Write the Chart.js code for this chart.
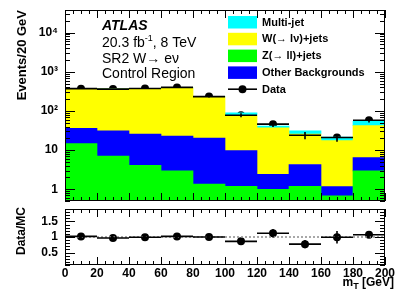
<!DOCTYPE html>
<html lang="en">
<head>
<meta charset="UTF-8">
<title>ATLAS SR2 W→eν Control Region</title>
<script src="https://cdn.jsdelivr.net/npm/chart.js"></script>
<style>
    * { margin: 0; padding: 0; box-sizing: border-box; }
    body { width: 407px; height: 292px; background: #fff; position: relative; overflow: hidden; }
    #main { position: absolute; left: 0; top: 0; }
    #ratio { position: absolute; left: 0; top: 205px; }
</style>
</head>
<body>
<canvas id="main" width="407" height="205"></canvas>
<canvas id="ratio" width="407" height="87"></canvas>

<script>
    // bins in m_T [GeV]
    const binLow = [0, 20, 40, 60, 80, 100, 120, 140, 160, 180];
    const binCenter = [10, 30, 50, 70, 90, 110, 130, 150, 170, 190];

    // stacked MC components (events / 20 GeV), bottom to top
    const zJets = [14.6, 7.0, 4.1, 2.95, 1.36, 1.19, 1.0, 1.19, 0.68, 2.95];
    const otherBkg = [21.4, 24, 21.6, 20, 18.9, 8.5, 1.4, 3.1, 0.49, 3.45];
    const wJets = [326, 338, 350, 366, 211, 68, 34.6, 21.4, 16.2, 35.6];
    const multiJet = [3, 4, 4, 3, 2, 12, 4, 5.3, 4.1, 12];

    // data
    const dataVals = [372, 362, 376, 400, 233, 78, 46, 24, 21, 58];
    const dataErr = [19, 19, 19, 20, 15, 9, 7, 5, 4.6, 7.6];

    // ratio panel
    const ratioVals = [1.02, 0.97, 0.99, 1.02, 1.00, 0.86, 1.12, 0.77, 0.99, 1.07];
    const ratioErr = [0.05, 0.05, 0.05, 0.05, 0.06, 0.08, 0.14, 0.13, 0.2, 0.1];

    // ticks
    const xTicks = [0, 20, 40, 60, 80, 100, 120, 140, 160, 180, 200];
    const mainYTicks = [1, 10, 100, 1000, 10000];
    const mainYLabels = ['1', '10', '10²', '10³', '10⁴'];
    const ratioYTicks = [0.5, 1, 1.5];
    const ratioYLabels = ['0.5', '1', '1.5'];

    const FONT = "'Liberation Sans', Arial, Helvetica, sans-serif";
    const binWidth = 20;

    // build floating bars for the stack
    const layers = [
        { label: 'Z(→ ll)+jets', vals: zJets, color: '#00ff00' },
        { label: 'Other Backgrounds', vals: otherBkg, color: '#0000ff' },
        { label: 'W(→ lν)+jets', vals: wJets, color: '#ffff00' },
        { label: 'Multi-jet', vals: multiJet, color: '#00ffff' }
    ];
    let running = binCenter.map(() => 0);
    const barSets = layers.map(l => {
        const d = binCenter.map((c, i) => {
            const lo = running[i] === 0 ? 0.01 : running[i];
            const hi = running[i] + l.vals[i];
            return { x: c, y: [lo, hi] };
        });
        running = running.map((r, i) => r + l.vals[i]);
        return {
            type: 'bar', label: l.label, data: d, backgroundColor: l.color,
            borderWidth: 0, grouped: false, barPercentage: 1, categoryPercentage: 1
        };
    });

    function frameTicks(chart, yList) {
        const { ctx, chartArea: a, scales } = chart;
        ctx.save();
        ctx.strokeStyle = '#000';
        ctx.lineWidth = 1;
        ctx.strokeRect(a.left + 0.5, a.top + 0.5, a.right - a.left - 1, a.bottom - a.top - 1);
        ctx.beginPath();
        for (let v = 0; v <= 200; v += 5) {
            const x = Math.round(scales.x.getPixelForValue(v)) + 0.5;
            const len = v % 20 === 0 ? 8 : 4;
            ctx.moveTo(x, a.bottom); ctx.lineTo(x, a.bottom - len);
            ctx.moveTo(x, a.top); ctx.lineTo(x, a.top + len);
        }
        yList.forEach(t => {
            const y = Math.round(scales.y.getPixelForValue(t.v)) + 0.5;
            ctx.moveTo(a.left, y); ctx.lineTo(a.left + t.len, y);
            ctx.moveTo(a.right, y); ctx.lineTo(a.right - t.len, y);
        });
        ctx.stroke();
        ctx.restore();
    }

    function errorBars(chart, vals, errs, lw) {
        const { ctx, scales } = chart;
        ctx.save();
        ctx.strokeStyle = '#000';
        ctx.lineWidth = lw;
        ctx.beginPath();
        vals.forEach((v, i) => {
            const x0 = scales.x.getPixelForValue(binLow[i]);
            const x1 = scales.x.getPixelForValue(binLow[i] + binWidth);
            const xc = scales.x.getPixelForValue(binCenter[i]);
            const y = scales.y.getPixelForValue(v);
            ctx.moveTo(x0, y); ctx.lineTo(x1, y);
            ctx.moveTo(xc, scales.y.getPixelForValue(v - errs[i]));
            ctx.lineTo(xc, scales.y.getPixelForValue(v + errs[i]));
        });
        ctx.stroke();
        ctx.restore();
    }

    // axes: fixed sizes, no label overhang padding
    const fixY = (axis) => { axis.width = 65; axis.paddingTop = 0; axis.paddingBottom = 0; };
    const fixX = (axis) => { axis.height = 27; axis.paddingLeft = 0; axis.paddingRight = 0; };

    // main panel log ticks
    const mainTickList = [];
    for (let d = -1; d <= 4; d++) {
        for (let m = 1; m <= 9; m++) {
            const v = m * Math.pow(10, d);
            if (v >= 0.5 && v <= 38000) mainTickList.push({ v: v, len: m === 1 ? 10 : 5 });
        }
    }
    const ratioTickList = [];
    for (let k = 1; k <= 19; k++) ratioTickList.push({ v: k / 10, len: k % 5 === 0 ? 10 : 5 });

    const mainDecor = {
        id: 'mainDecor',
        afterDatasetsDraw(chart) {
            errorBars(chart, dataVals, dataErr, 1.6);
        },
        afterDraw(chart) {
            const ctx = chart.ctx;
            frameTicks(chart, mainTickList);
            ctx.save();
            ctx.fillStyle = '#000';

            // y title
            ctx.save();
            ctx.translate(22, 10);
            ctx.rotate(-Math.PI / 2);
            ctx.font = 'bold 13px ' + FONT;
            ctx.textAlign = 'right';
            ctx.textBaseline = 'middle';
            ctx.fillText('Events/20 GeV', 0, 0);
            ctx.restore();

            // ATLAS label block
            ctx.textAlign = 'left';
            ctx.textBaseline = 'alphabetic';
            ctx.font = 'italic bold 14px ' + FONT;
            ctx.fillText('ATLAS', 102, 30);
            ctx.font = '14px ' + FONT;
            ctx.fillText('20.3 fb', 102, 47);
            let w = ctx.measureText('20.3 fb').width;
            ctx.font = '9px ' + FONT;
            ctx.fillText('-1', 102 + w, 41);
            const w2 = ctx.measureText('-1').width;
            ctx.font = '14px ' + FONT;
            ctx.fillText(', 8 TeV', 102 + w + w2, 47);
            ctx.fillText('SR2 W→ eν', 102, 63);
            ctx.fillText('Control Region', 102, 78);

            // legend
            const legend = [
                { label: 'Multi-jet', color: '#00ffff' },
                { label: 'W(→ lν)+jets', color: '#ffff00' },
                { label: 'Z(→ ll)+jets', color: '#00ff00' },
                { label: 'Other Backgrounds', color: '#0000ff' }
            ];
            ctx.font = 'bold 11px ' + FONT;
            ctx.textBaseline = 'middle';
            legend.forEach((it, i) => {
                const cy = 22 + i * 16.8;
                ctx.fillStyle = it.color;
                ctx.fillRect(228, cy - 6, 29, 12.5);
                ctx.fillStyle = '#000';
                ctx.fillText(it.label, 262, cy + 0.5);
            });
            const dy = 22 + 4 * 16.8;
            ctx.strokeStyle = '#000';
            ctx.lineWidth = 1.6;
            ctx.beginPath();
            ctx.moveTo(228, dy); ctx.lineTo(257, dy);
            ctx.stroke();
            ctx.beginPath();
            ctx.arc(242.5, dy, 4, 0, Math.PI * 2);
            ctx.fill();
            ctx.fillText('Data', 262, dy + 0.5);
            ctx.restore();
        }
    };

    new Chart(document.getElementById('main'), {
        type: 'bar',
        data: {
            datasets: [
                ...barSets,
                {
                    type: 'line', label: 'Data', showLine: false,
                    data: binCenter.map((c, i) => ({ x: c, y: dataVals[i] })),
                    pointRadius: 4, pointBackgroundColor: '#000', pointBorderWidth: 0, pointHoverRadius: 4
                }
            ]
        },
        options: {
            responsive: false,
            animation: false,
            layout: { padding: { left: 0, right: 22, top: 10, bottom: 1 } },
            plugins: { legend: { display: false }, tooltip: { enabled: false } },
            scales: {
                x: { type: 'linear', min: 0, max: 200, offset: false, display: false },
                y: {
                    type: 'logarithmic', min: 0.5, max: 38000,
                    grid: { display: false, drawTicks: false },
                    border: { display: false },
                    afterBuildTicks: (axis) => { axis.ticks = mainYTicks.map(v => ({ value: v })); },
                    afterFit: fixY,
                    ticks: {
                        autoSkip: false, padding: 7, color: '#000',
                        font: { family: FONT, size: 12, weight: 'bold' },
                        callback: (v) => { const k = mainYTicks.indexOf(v); return k >= 0 ? mainYLabels[k] : ''; }
                    }
                }
            }
        },
        plugins: [mainDecor]
    });

    const ratioDecor = {
        id: 'ratioDecor',
        afterDatasetsDraw(chart) {
            errorBars(chart, ratioVals, ratioErr, 1.6);
        },
        afterDraw(chart) {
            const ctx = chart.ctx;
            frameTicks(chart, ratioTickList);
            ctx.save();
            ctx.fillStyle = '#000';
            ctx.save();
            ctx.translate(22, 2);
            ctx.rotate(-Math.PI / 2);
            ctx.font = 'bold 12px ' + FONT;
            ctx.textAlign = 'right';
            ctx.textBaseline = 'middle';
            ctx.fillText('Data/MC', 0, 0);
            ctx.restore();

            // x title m_T [GeV]
            ctx.textBaseline = 'alphabetic';
            ctx.textAlign = 'left';
            ctx.font = 'bold 12px ' + FONT;
            const rest = ' [GeV]';
            const wRest = ctx.measureText(rest).width;
            const wm = ctx.measureText('m').width;
            ctx.font = 'bold 9px ' + FONT;
            const wt = ctx.measureText('T').width;
            const xEnd = 394;
            const x0 = xEnd - wRest - wt - wm;
            ctx.font = 'bold 12px ' + FONT;
            ctx.fillText('m', x0, 81);
            ctx.fillText(rest, x0 + wm + wt, 81);
            ctx.font = 'bold 9px ' + FONT;
            ctx.fillText('T', x0 + wm, 84);
            ctx.restore();
        }
    };

    new Chart(document.getElementById('ratio'), {
        type: 'line',
        data: {
            datasets: [
                {
                    label: 'unity', data: [{ x: 0, y: 1 }, { x: 200, y: 1 }],
                    borderColor: '#8c8c8c', borderWidth: 1.5, borderDash: [2, 2], pointRadius: 0
                },
                {
                    label: 'Data/MC', showLine: false,
                    data: binCenter.map((c, i) => ({ x: c, y: ratioVals[i] })),
                    pointRadius: 4, pointBackgroundColor: '#000', pointBorderWidth: 0, pointHoverRadius: 4
                }
            ]
        },
        options: {
            responsive: false,
            animation: false,
            layout: { padding: { left: 0, right: 22, top: 0, bottom: 0 } },
            plugins: { legend: { display: false }, tooltip: { enabled: false } },
            scales: {
                x: {
                    type: 'linear', min: 0, max: 200, offset: false,
                    grid: { display: false, drawTicks: false },
                    border: { display: false },
                    afterBuildTicks: (axis) => { axis.ticks = xTicks.map(v => ({ value: v })); },
                    afterFit: fixX,
                    ticks: {
                        autoSkip: false, maxRotation: 0, padding: 1, color: '#000',
                        font: { family: FONT, size: 12, weight: 'bold' }
                    }
                },
                y: {
                    type: 'linear', min: 0.1, max: 1.9,
                    grid: { display: false, drawTicks: false },
                    border: { display: false },
                    afterBuildTicks: (axis) => { axis.ticks = ratioYTicks.map(v => ({ value: v })); },
                    afterFit: fixY,
                    ticks: {
                        autoSkip: false, padding: 7, color: '#000',
                        font: { family: FONT, size: 12, weight: 'bold' },
                        callback: (v) => { const k = ratioYTicks.indexOf(v); return k >= 0 ? ratioYLabels[k] : ''; }
                    }
                }
            }
        },
        plugins: [ratioDecor]
    });
</script>
</body>
</html>
